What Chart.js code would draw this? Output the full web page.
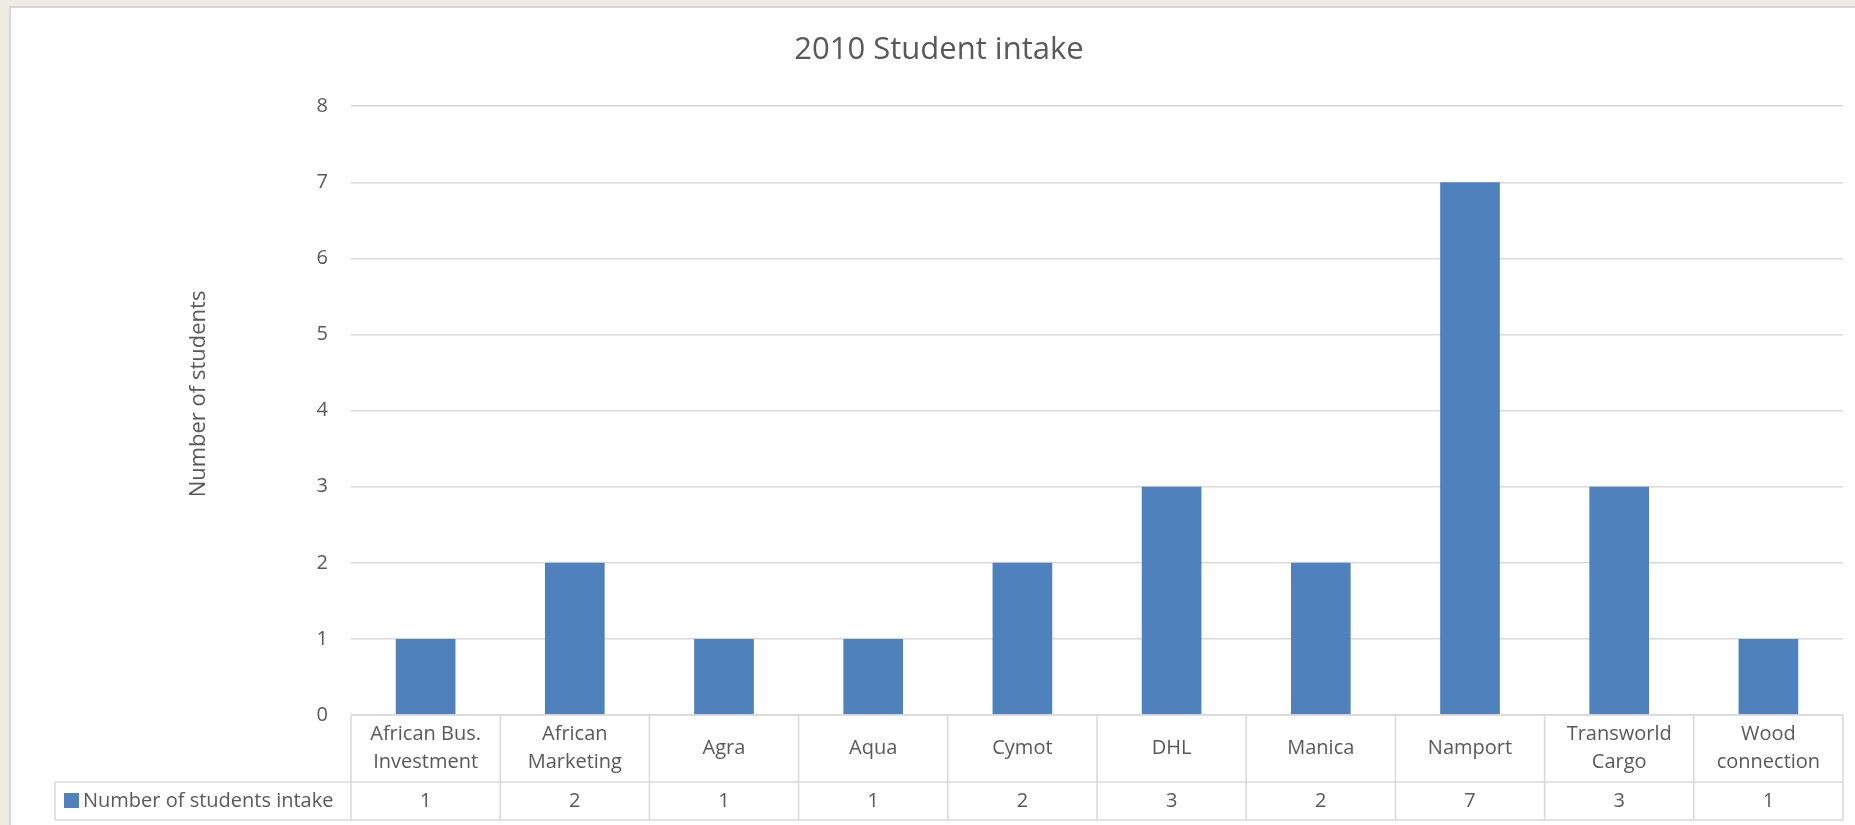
<!DOCTYPE html>
<html><head><meta charset="utf-8">
<script src="https://cdn.jsdelivr.net/npm/chart.js@4.4.0/dist/chart.umd.min.js"></script>
<style>html,body{margin:0;padding:0;background:#eeece1;overflow:hidden}#wrap{width:1855px;height:825px;position:relative}</style>
</head><body><div id="wrap"><canvas id="c" width="1855" height="825"></canvas></div>
<script>
const chartTitle = '2010 Student intake';
const yAxisTitle = 'Number of students';
const seriesName = 'Number of students intake';
const categories = [['African Bus.', 'Investment'], ['African', 'Marketing'], 'Agra', 'Aqua', 'Cymot', 'DHL', 'Manica', 'Namport', ['Transworld', 'Cargo'], ['Wood', 'connection']];
const intake = [1, 2, 1, 1, 2, 3, 2, 7, 3, 1];
const yTicks = [0, 1, 2, 3, 4, 5, 6, 7, 8];

const TEXT = '#595959';
const GRID = '#d9d9d9';
const BAR = '#4f81bd';
Chart.defaults.font.family = "'Open Sans', 'DejaVu Sans', sans-serif";

const panelPlugin = {
  id: 'panel',
  beforeDraw(chart) {
    const ctx = chart.ctx;
    ctx.save();
    ctx.fillStyle = '#eeece1';
    ctx.fillRect(0, 0, chart.width, chart.height);
    ctx.fillStyle = '#d6d6d6';
    ctx.fillRect(9, 6, chart.width - 9, chart.height - 6);
    ctx.fillStyle = '#ffffff';
    ctx.fillRect(11, 8, chart.width - 11, chart.height - 8);
    ctx.restore();
  }
};

const tablePlugin = {
  id: 'dataTable',
  afterDraw(chart) {
    const ctx = chart.ctx;
    const xs = chart.scales.x;
    const area = chart.chartArea;
    const row1Top = area.bottom;
    const row2Top = row1Top + 67;
    const row2Bot = row2Top + 38;
    const legendLeft = 55;
    const n = categories.length;
    const step = (area.right - area.left) / n;
    ctx.save();
    ctx.strokeStyle = GRID;
    ctx.lineWidth = 1.5;
    ctx.beginPath();
    ctx.moveTo(area.left, row1Top); ctx.lineTo(area.right, row1Top);
    ctx.moveTo(legendLeft, row2Top); ctx.lineTo(area.right, row2Top);
    ctx.moveTo(legendLeft, row2Bot); ctx.lineTo(area.right, row2Bot);
    for (let i = 0; i <= n; i++) {
      const x = xs.getPixelForValue(Math.min(i, n - 1)) + (i === n ? step / 2 : -step / 2);
      ctx.moveTo(x, row1Top); ctx.lineTo(x, row2Bot);
    }
    ctx.moveTo(legendLeft, row2Top); ctx.lineTo(legendLeft, row2Bot);
    ctx.stroke();

    ctx.fillStyle = TEXT;
    ctx.font = "20px 'Open Sans', sans-serif";
    ctx.textAlign = 'center';
    ctx.textBaseline = 'middle';

    // category labels row
    const rowMid = (row1Top + row2Top) / 2;
    const lh = 28;
    chart.data.labels.forEach((lab, i) => {
      const lines = Array.isArray(lab) ? lab : [lab];
      const x = xs.getPixelForValue(i);
      const y0 = rowMid - (lines.length - 1) * lh / 2;
      lines.forEach((t, k) => ctx.fillText(t, x, y0 + k * lh));
    });

    // values row
    const ds = chart.data.datasets[0];
    ds.data.forEach((v, i) => {
      ctx.fillText(String(v), xs.getPixelForValue(i), (row2Top + row2Bot) / 2);
    });

    // legend key
    ctx.fillStyle = BAR;
    ctx.fillRect(64, row2Top + 11, 15, 15);
    ctx.fillStyle = TEXT;
    ctx.textAlign = 'left';
    ctx.fillText(ds.label, 83, (row2Top + row2Bot) / 2);

    // y axis title
    ctx.translate(199, 394);
    ctx.rotate(-Math.PI / 2);
    ctx.textAlign = 'center';
    ctx.font = "22px 'Open Sans', sans-serif";
    ctx.fillText(yAxisTitle, 0, 0);
    ctx.restore();
  }
};

new Chart(document.getElementById('c'), {
  type: 'bar',
  data: {
    labels: categories,
    datasets: [{
      label: seriesName,
      data: intake,
      backgroundColor: BAR,
      borderWidth: 0,
      categoryPercentage: 1.0,
      barPercentage: 0.4
    }]
  },
  options: {
    responsive: false,
    animation: false,
    devicePixelRatio: 1,
    layout: { padding: { top: 10, left: 35, right: 12, bottom: 0 } },
    plugins: {
      legend: { display: false },
      tooltip: { enabled: false },
      title: {
        display: true,
        text: chartTitle,
        color: TEXT,
        font: { size: 31, weight: 'normal' },
        padding: { top: 22, bottom: 37 }
      }
    },
    scales: {
      x: {
        type: 'category',
        offset: true,
        grid: { display: false, drawTicks: false },
        border: { display: false },
        ticks: { display: false },
        afterFit(scale) { scale.height = 110; }
      },
      y: {
        min: 0,
        max: 8,
        grid: { color: GRID, lineWidth: 1.5, drawTicks: false },
        border: { display: false },
        ticks: {
          color: TEXT,
          font: { size: 20 },
          padding: 23,
          stepSize: 1
        },
        afterBuildTicks(scale) { scale.ticks = yTicks.map(v => ({ value: v })); },
        afterFit(scale) { scale.width = 316; }
      }
    }
  },
  plugins: [panelPlugin, tablePlugin]
});
</script>
</body></html>
